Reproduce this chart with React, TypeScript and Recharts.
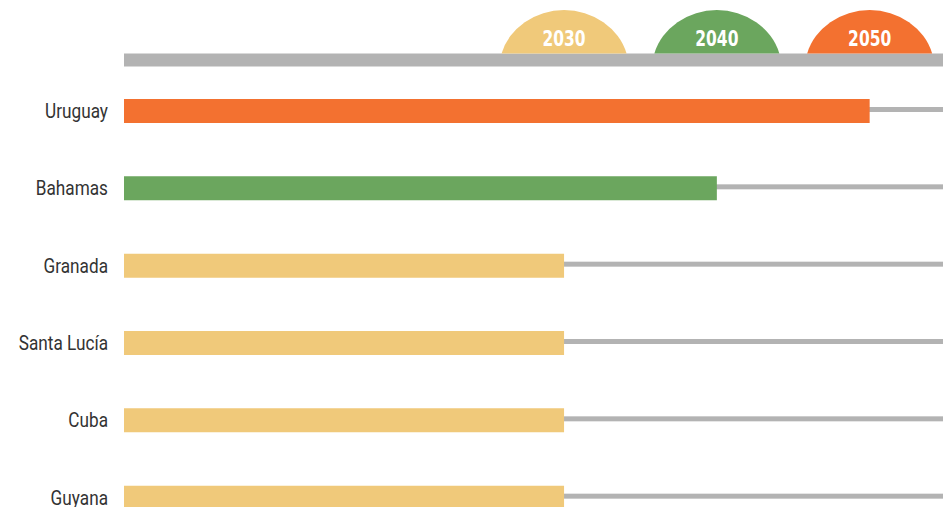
import React from "react";
import { BarChart, Bar, XAxis, YAxis, Cell } from "recharts";

// Target year for each country
const countries = ["Uruguay", "Bahamas", "Granada", "Santa Lucía", "Cuba", "Guyana"];
const targetYears = [2050, 2040, 2030, 2030, 2030, 2030];

// Milestone years shown as domes on the top band
const milestoneYears = [2030, 2040, 2050];

const yearColors: Record<number, string> = {
  2030: "#F0C97A",
  2040: "#6BA65E",
  2050: "#F37130",
};

const TRACK = "#B3B3B3";
const FONT = "'DejaVu Sans Condensed', 'DejaVu Sans', sans-serif";
const LABEL_FONT = "Roboto, 'DejaVu Sans Condensed', sans-serif";

const data = countries.map((name, i) => ({ name, year: targetYears[i] }));

// Dome with the year written inside, sitting on the top band
const MilestoneTick = (props: any) => {
  const { x, y, payload } = props;
  const base = y - 6.5;
  const half = 62.5;
  const d = `M ${x - half} ${base} A 64.8 59 0 0 1 ${x + half} ${base} Z`;
  return (
    <g>
      <path d={d} fill={yearColors[payload.value]} />
      <text
        transform={`translate(${x}, ${base - 8}) scale(0.82, 1)`}
        textAnchor="middle"
        fill="#ffffff"
        fontFamily={FONT}
        fontWeight={700}
        fontSize={21}
      >
        {payload.value}
      </text>
    </g>
  );
};

// Narrow country label on the left
const CountryTick = (props: any) => {
  const { x, y, payload } = props;
  return (
    <text
      transform={`translate(${x}, ${y}) scale(0.86, 1)`}
      dy="0.36em"
      textAnchor="end"
      fill="#333333"
      fontFamily={LABEL_FONT}
      fontWeight={400}
      fontSize={20}
    >
      {payload.value}
    </text>
  );
};

// Thin grey track running behind each bar
const Track = (props: any) => {
  const { x, y, width, height } = props;
  return <rect x={x} y={y + height / 2 - 4} width={width} height={5} fill={TRACK} />;
};

export default function App() {
  return (
    <div
      style={{
        position: "absolute",
        left: 0,
        top: 0,
        width: 943,
        height: 507,
        overflow: "hidden",
        background: "#ffffff",
      }}
    >
      <BarChart
        width={943}
        height={536}
        data={data}
        layout="vertical"
        margin={{ top: 0, right: 0, bottom: 0, left: 0 }}
      >
        <XAxis
          type="number"
          orientation="top"
          height={60}
          domain={[2001.2, 2054.8]}
          allowDataOverflow
          ticks={milestoneYears}
          interval={0}
          tickSize={0}
          tickMargin={0}
          tickLine={false}
          axisLine={{ stroke: TRACK, strokeWidth: 13 }}
          tick={<MilestoneTick />}
        />
        <YAxis
          type="category"
          dataKey="name"
          width={124}
          padding={{ top: 12, bottom: 0 }}
          axisLine={false}
          tickLine={false}
          tickMargin={10}
          tick={<CountryTick />}
        />
        <Bar
          dataKey="year"
          barSize={24}
          isAnimationActive={false}
          background={<Track />}
        >
          {data.map((d) => (
            <Cell key={d.name} fill={yearColors[d.year]} />
          ))}
        </Bar>
      </BarChart>
    </div>
  );
}
